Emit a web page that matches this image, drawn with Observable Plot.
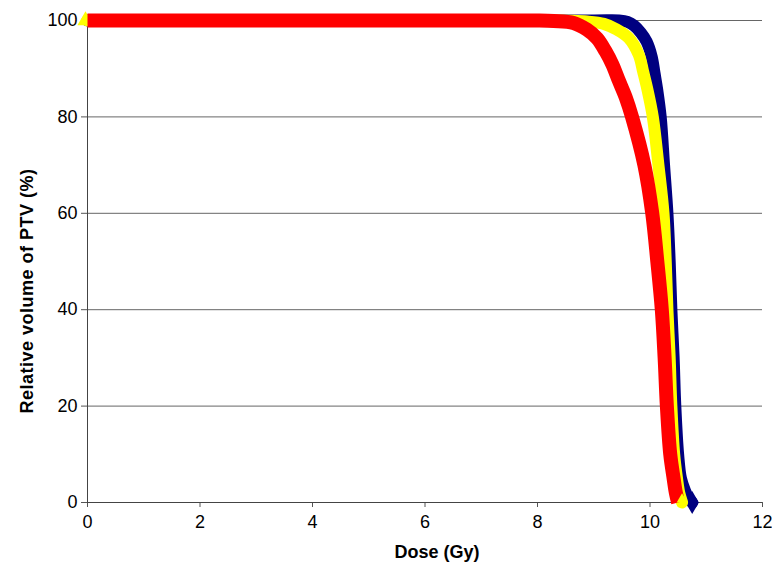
<!DOCTYPE html>
<html>
<head>
<meta charset="utf-8">
<script src="https://cdn.jsdelivr.net/npm/d3@7"></script>
<script src="https://cdn.jsdelivr.net/npm/@observablehq/plot@0.6"></script>
<style>
  body { margin: 0; background: #fff; }
  #chart svg { display: block; }
</style>
</head>
<body>
<div id="chart"></div>
<script>
// --- data ---
const navyDose = [0, 9.0, 9.45, 9.6, 9.72, 9.84, 9.94, 10.03, 10.08, 10.13, 10.19, 10.25, 10.31, 10.35, 10.38, 10.42, 10.45, 10.5, 10.55, 10.62, 10.68, 10.75];
const navyVol  = [100, 100, 100, 99.7, 98.9, 97.4, 95.6, 92.5, 89.1, 85.5, 80, 70, 60, 50, 40, 30, 20, 10, 5, 2.5, 1, 0];

const yellowDose = [0, 8.2, 8.59, 8.88, 9.18, 9.4, 9.62, 9.8, 9.88, 9.95, 10.05, 10.15, 10.24, 10.28, 10.31, 10.35, 10.38, 10.43, 10.48, 10.52, 10.57];
const yellowVol  = [100, 100, 99.95, 99.8, 99.3, 98.2, 96.4, 92.9, 89.3, 85.9, 80, 70, 60, 50, 40, 30, 20, 10, 5, 2, 0];

const redDose = [0, 7.6, 8.0, 8.29, 8.64, 8.88, 9.06, 9.21, 9.33, 9.45, 9.57, 9.68, 9.9, 10.04, 10.13, 10.21, 10.26, 10.3, 10.36, 10.42, 10.46, 10.5];
const redVol  = [100, 100, 100, 99.9, 99.5, 98.1, 96.3, 93.6, 90.9, 87.4, 84.0, 80, 70, 60, 50, 40, 30, 20, 10, 5, 2, 0];

const xTicks = [0, 2, 4, 6, 8, 10, 12];
const yTicks = [0, 20, 40, 60, 80, 100];
const xTitle = "Dose (Gy)";
const yTitle = "Relative volume of PTV (%)";

const toRows = (d, v) => d.map((x, i) => ({dose: x, vol: v[i]}));
const navy = toRows(navyDose, navyVol);
const yellow = toRows(yellowDose, yellowVol);
const red = toRows(redDose, redVol);

const font = "Arial, 'Liberation Sans', sans-serif";
const curve = "catmull-rom";

const chart = Plot.plot({
  width: 772,
  height: 564,
  marginLeft: 87,
  marginRight: 10,
  marginTop: 20,
  marginBottom: 62,
  style: {fontFamily: font, background: "#fff", overflow: "visible"},
  x: {domain: [0, 12]},
  y: {domain: [0, 100]},
  marks: [
    Plot.gridY(yTicks.filter(d => d > 0), {stroke: "#666", strokeOpacity: 1, strokeWidth: 1}),
    Plot.axisX(xTicks, {tickSize: 5, tickPadding: 8, fontSize: 18, label: null, stroke: "#555", fill: "#000"}),
    Plot.axisY(yTicks, {tickSize: 6, tickPadding: 4, fontSize: 18, label: null, stroke: "#555", fill: "#000"}),
    Plot.ruleX([0], {stroke: "#444"}),
    Plot.ruleY([0], {stroke: "#444"}),
    Plot.line(navy, {x: "dose", y: "vol", stroke: "#000080", strokeWidth: 12, curve, strokeLinecap: "round", strokeLinejoin: "round"}),
    Plot.dot([navy[navy.length - 1]], {x: "dose", y: "vol", symbol: "diamond", r: 7, fill: "#000080"}),
    Plot.line(yellow, {x: "dose", y: "vol", stroke: "#ffff00", strokeWidth: 12, curve, strokeLinecap: "round", strokeLinejoin: "round"}),
    Plot.dot([yellow[0]], {x: "dose", y: "vol", symbol: "triangle", r: 6, fill: "#ffff00", dx: -2}),
    Plot.line(red, {x: "dose", y: "vol", stroke: "#ff0000", strokeWidth: 14, curve, strokeLinecap: "butt", strokeLinejoin: "round"}),
    Plot.dot([yellow[yellow.length - 1]], {x: "dose", y: "vol", symbol: "triangle", r: 4, fill: "#ffff00", dy: -3})
  ]
});

document.getElementById("chart").appendChild(chart);

// axis titles
const svg = d3.select(chart);
svg.append("text")
  .attr("x", 437)
  .attr("y", 558)
  .attr("text-anchor", "middle")
  .attr("font-family", font)
  .attr("font-size", 18)
  .attr("font-weight", "bold")
  .attr("fill", "#000")
  .text(xTitle);
svg.append("text")
  .attr("transform", "translate(33,291) rotate(-90)")
  .attr("text-anchor", "middle")
  .attr("font-family", font)
  .attr("font-size", 18)
  .attr("font-weight", "bold")
  .attr("letter-spacing", "0.5px")
  .attr("fill", "#000")
  .text(yTitle);
</script>
</body>
</html>
